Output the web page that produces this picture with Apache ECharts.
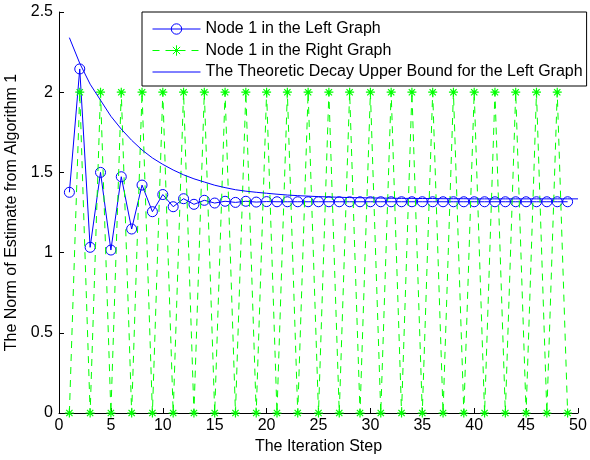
<!DOCTYPE html>
<html>
<head>
<meta charset="utf-8">
<script src="https://cdn.jsdelivr.net/npm/echarts@6/dist/echarts.min.js"></script>
<style>html,body{margin:0;padding:0;background:#fff}#c{width:590px;height:460px}</style>
</head>
<body>
<div id="c"></div>
<script>
var leftSteps = [1,2,3,4,5,6,7,8,9,10,11,12,13,14,15,16,17,18,19,20,21,22,23,24,25,26,27,28,29,30,31,32,33,34,35,36,37,38,39,40,41,42,43,44,45,46,47,48,49];
var leftValues = [1.376,2.145,1.033,1.50,1.016,1.473,1.147,1.421,1.255,1.362,1.286,1.336,1.301,1.326,1.309,1.320,1.313,1.320,1.315,1.318,1.317,1.317,1.317,1.317,1.317,1.317,1.317,1.317,1.317,1.317,1.317,1.317,1.317,1.317,1.317,1.317,1.317,1.317,1.317,1.317,1.317,1.317,1.317,1.317,1.317,1.317,1.317,1.317,1.317];
var rightSteps = [1,2,3,4,5,6,7,8,9,10,11,12,13,14,15,16,17,18,19,20,21,22,23,24,25,26,27,28,29,30,31,32,33,34,35,36,37,38,39,40,41,42,43,44,45,46,47,48,49];
var rightValues = [0,2,0,2,0,2,0,2,0,2,0,2,0,2,0,2,0,2,0,2,0,2,0,2,0,2,0,2,0,2,0,2,0,2,0,2,0,2,0,2,0,2,0,2,0,2,0,2,0];
var boundSteps = [1,2,3,4,5,6,7,8,9,10,11,12,13,14,15,16,17,18,19,20,21,22,23,24,25,26,27,28,29,30,31,32,33,34,35,36,37,38,39,40,41,42,43,44,45,46,47,48,49,50];
var boundValues = [2.34,2.18,2.05,1.95,1.85,1.77,1.70,1.64,1.59,1.55,1.515,1.485,1.46,1.44,1.42,1.405,1.392,1.383,1.376,1.370,1.364,1.359,1.355,1.352,1.349,1.347,1.345,1.343,1.342,1.341,1.340,1.339,1.338,1.338,1.337,1.337,1.336,1.336,1.336,1.335,1.335,1.335,1.335,1.335,1.335,1.335,1.335,1.335,1.335,1.335];
var xTicks = {min: 0, max: 50, interval: 5};
var yTicks = {min: 0, max: 2.5, interval: 0.5};
var names = ['Node 1 in the Left Graph', 'Node 1 in the Right Graph', 'The Theoretic Decay Upper Bound for the Left Graph'];

function pairs(xs, ys){ return xs.map(function(x,i){ return [x, ys[i]]; }); }

var font = 'Arial, "Liberation Sans", Helvetica, sans-serif';
var star = 'path://M0,-5L0,5M-5,0L5,0M-3.5,-3.5L3.5,3.5M-3.5,3.5L3.5,-3.5';

var chart = echarts.init(document.getElementById('c'), null, {renderer: 'canvas'});
chart.setOption({
  animation: false,
  backgroundColor: '#fff',
  grid: {left: 59, right: 12, top: 12, bottom: 47, containLabel: false, outerBoundsMode: 'none'},
  xAxis: {
    type: 'value', min: xTicks.min, max: xTicks.max, interval: xTicks.interval,
    name: 'The Iteration Step', nameLocation: 'middle', nameGap: 25,
    nameTextStyle: {fontFamily: font, fontSize: 16, color: '#000'},
    axisLine: {show: true, onZero: false, lineStyle: {color: '#000', width: 1}},
    axisTick: {show: true, inside: true, length: 5, lineStyle: {color: '#000'}},
    axisLabel: {fontFamily: font, fontSize: 16, color: '#000', margin: 5},
    splitLine: {show: false}
  },
  yAxis: {
    type: 'value', min: yTicks.min, max: yTicks.max, interval: yTicks.interval,
    name: 'The Norm of Estimate from Algorithm 1', nameLocation: 'middle', nameGap: 34, nameRotate: 90,
    nameTextStyle: {fontFamily: font, fontSize: 16, color: '#000'},
    axisLine: {show: true, onZero: false, lineStyle: {color: '#000', width: 1}},
    axisTick: {show: true, inside: true, length: 5, lineStyle: {color: '#000'}},
    axisLabel: {fontFamily: font, fontSize: 16, color: '#000', margin: 6},
    splitLine: {show: false}
  },
  legend: {
    show: true, orient: 'vertical', left: 142, top: 12,
    padding: [9, 4, 6, 10], itemGap: 5.5, itemWidth: 48, itemHeight: 13,
    backgroundColor: '#fff', borderColor: '#000', borderWidth: 1,
    lineStyle: {width: 1},
    itemStyle: {borderWidth: 1},
    textStyle: {fontFamily: font, fontSize: 16, color: '#000'},
    data: [
      {name: names[0]},
      {name: names[1]},
      {name: names[2], itemStyle: {color: 'rgba(0,0,0,0)', borderColor: 'rgba(0,0,0,0)', borderWidth: 0}}
    ]
  },
  series: [
    {
      name: names[0], type: 'line', data: pairs(leftSteps, leftValues),
      symbol: 'circle', symbolSize: 10, showAllSymbol: true,
      lineStyle: {color: '#0000ff', width: 1},
      itemStyle: {color: 'rgba(0,0,0,0)', borderColor: '#0000ff', borderWidth: 1},
      z: 2
    },
    {
      name: names[1], type: 'line', data: pairs(rightSteps, rightValues),
      symbol: star, symbolSize: 9, showAllSymbol: true,
      lineStyle: {color: '#00ff00', width: 1, type: [7, 6]},
      itemStyle: {color: '#00ff00', borderColor: '#00ff00', borderWidth: 1.2},
      z: 3
    },
    {
      name: names[2], type: 'line', data: pairs(boundSteps, boundValues),
      symbol: 'none', smooth: false,
      lineStyle: {color: '#0000ff', width: 1},
      itemStyle: {color: '#0000ff'},
      z: 4
    }
  ]
});
</script>
</body>
</html>
